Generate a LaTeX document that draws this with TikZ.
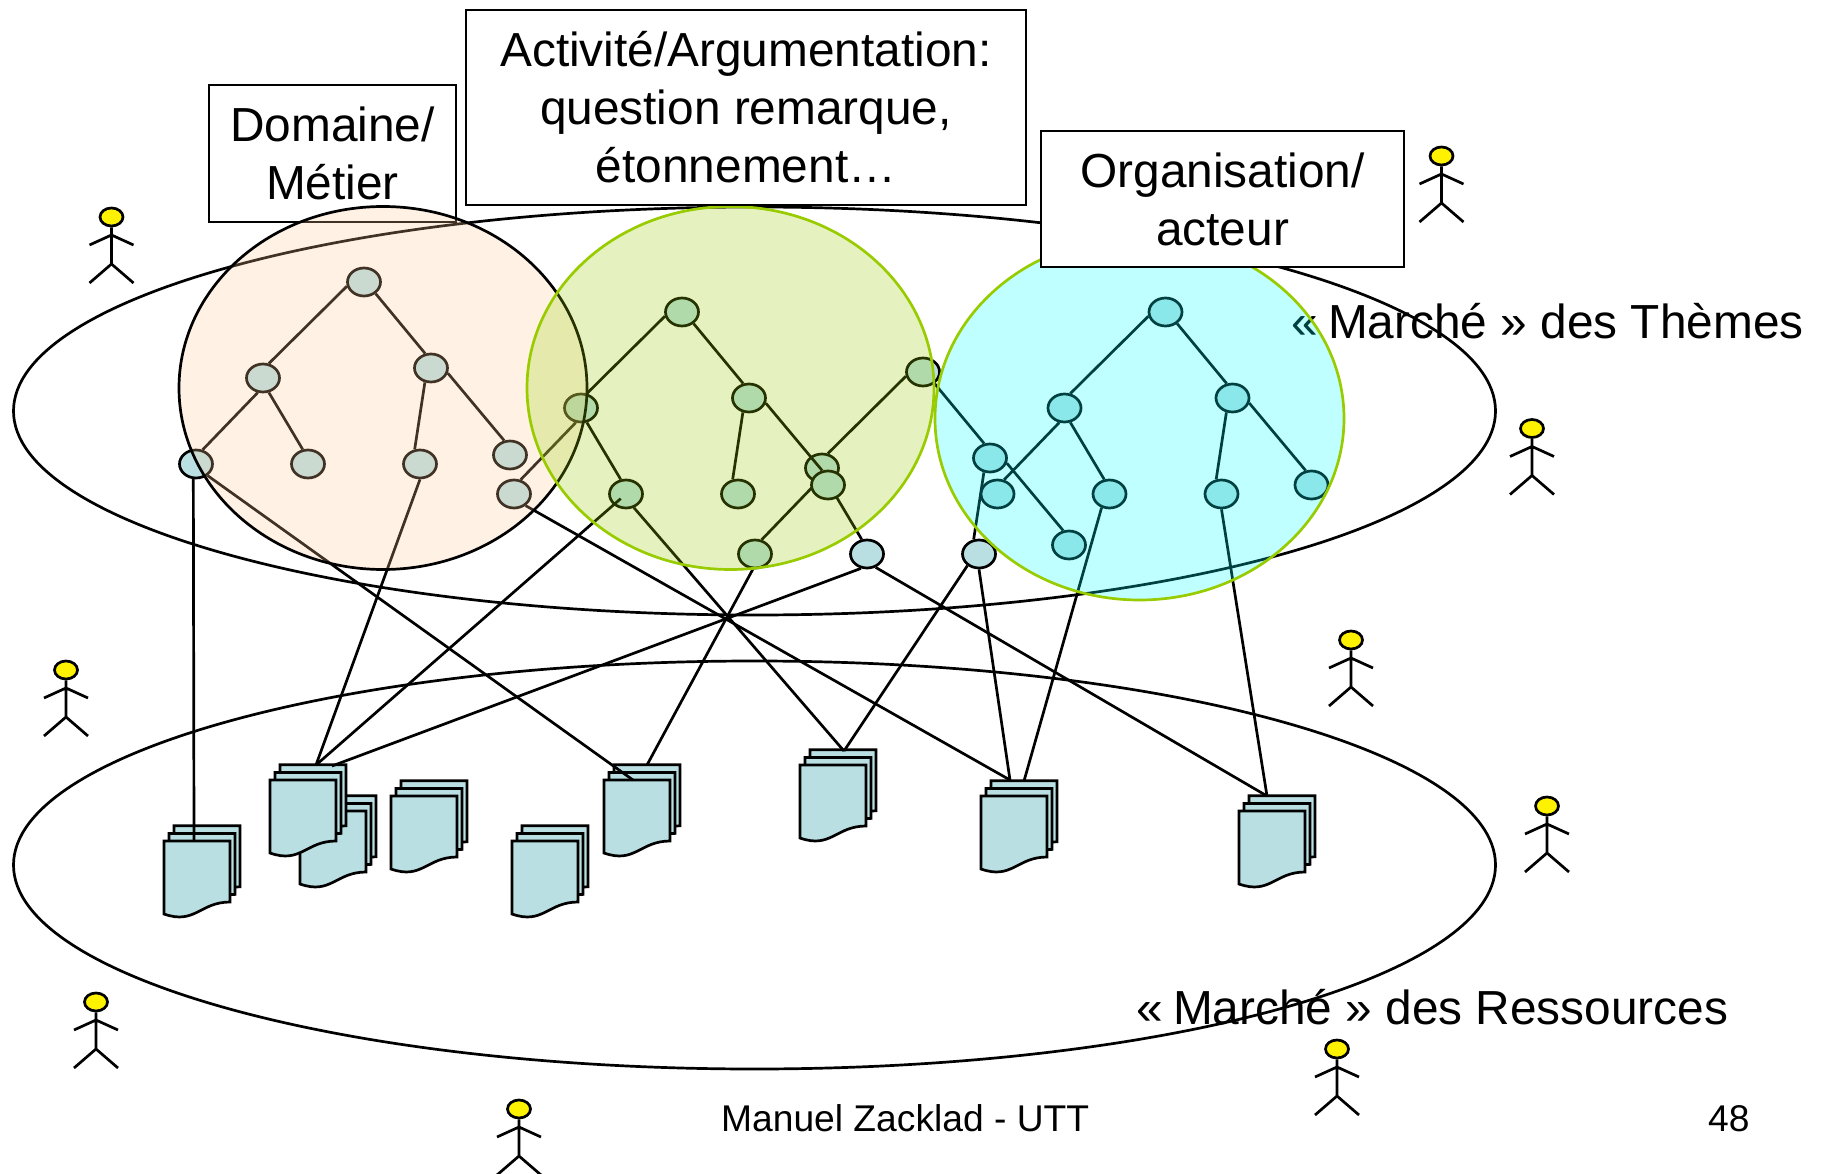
\documentclass[tikz,border=0pt]{standalone}
\usepackage{fontspec}
\setmainfont{Liberation Sans}
\usetikzlibrary{shapes.geometric}
\definecolor{bleudoc}{HTML}{B9DFE3}
\definecolor{vertrond}{RGB}{153,204,0}
\definecolor{orangerond}{RGB}{255,204,153}
\definecolor{cyanrond}{RGB}{0,255,255}
\tikzset{
	trait/.style={line width=2.7pt},
	noeud/.style={trait,draw,ellipse,fill=bleudoc,inner sep=0pt,minimum width=33pt,minimum height=28pt},
	tete/.style={trait,draw,ellipse,fill=yellow,inner sep=0pt,minimum width=23pt,minimum height=18pt},
	feuille/.style={trait,draw=black,fill=bleudoc,line join=miter},
	rond/.style={trait,draw,ellipse,fill opacity=.25,inner sep=0pt,minimum height=363pt},
	boite/.style={trait,draw,fill=white,inner sep=0pt,align=center,font=\fontsize{47.8}{58}\selectfont},
	titre/.style={anchor=base west,inner sep=0pt,font=\fontsize{47.8}{58}\selectfont},
	petit/.style={anchor=base west,inner sep=0pt,font=\fontsize{37.2}{44}\selectfont}
}
\begin{document}
\begin{tikzpicture}[x=1pt,y=-1pt]
	\useasboundingbox (0,0) rectangle (1821,1174);
	\draw[trait] (754.5,411) ellipse [x radius=741,y radius=204] % les deux marches
		(754.5,865) ellipse [x radius=741,y radius=204];
	\node[titre] (themes) at (1291,339) {«\kern-3pt{} Marché » des Thèmes};
	\node[titre] (ressources) at (1136,1024) {«\kern-3pt{} Marché » des Ressources};
	\node[petit] (auteur) at (721,1131) {Manuel Zacklad - UTT};
	\node[petit] (page) at (1708,1131) {48};
	\foreach \t/\x/\y in {o/923/372,r/1165.5/312,d/364/282,a/682/312}% racines des arbres
	{\foreach \s/\dx/\dy in {0/0/0,1/-101/96,2/67/86,3/-168/182,4/-56/182,5/56/182,6/146/173}
		\node[noeud] (\t\s) at (\x+\dx,\y+\dy) {};
		\foreach \p/\u/\f/\v in {0/194/1/68,0/315/2/112,1/250/3/65,1/292/4/110,2/247/5/110,2/343/6/112}
		\draw[trait] (\t\p.\u)--(\t\f.\v);}
	\foreach \x/\y in {300/811,270/780,164/841,391/796,512/841,604/780,800/765,981/796,1239/811}% piles de documents
	{\foreach \d in {2,1,0}
		\draw[feuille,shift={(\x+\d*5,\y-\d*7.6)}] (0,0)--(66,0)--(66,61)
		.. controls (36,61) and (31,84) .. (0,73)--cycle;}
	\coordinate (A) at (194,841);
	\coordinate (B1) at (316,765);
	\coordinate (B2) at (332,766);
	\coordinate (F1) at (633,780);
	\coordinate (F2) at (647,765);
	\coordinate (G) at (844,751);
	\coordinate (H1) at (1010,780);
	\coordinate (H2) at (1024,781);
	\coordinate (I) at (1267,796);
	\foreach \a/\b in {d3.260/A,d3.315/F1,d5.270/B1,o4.247/B2,o3.262/F2,a4.300/G,o5.225/G,a3.315/H1,o5.270/H1,r4.240/H2,o4.303/I,r5.270/I}
	\draw[trait] (\a)--(\b);
	\draw[trait,shorten <=7pt] (a4.center)--(B1);
	\node[boite,minimum width=247pt,minimum height=137pt] (metier) at (332.5,153.5) {Domaine/\\Métier};
	\node[rond,draw=black,fill=orangerond,minimum width=408pt] (corange) at (383,388) {};
	\node[rond,draw=vertrond,fill=vertrond,minimum width=407pt] (cvert) at (730.5,388) {};
	\node[rond,draw=vertrond,fill=cyanrond,minimum width=409pt] (ccyan) at (1139.5,418.5) {};
	\node[boite,minimum width=560pt,minimum height=195pt] (activite) at (746,107.5) {Activité/Argumentation:\\question remarque,\\étonnement…};
	\node[boite,minimum width=363pt,minimum height=136pt] (organisation) at (1222.5,199) {Organisation/\\acteur};
	\foreach \x/\y [count=\i from 1] in {111.5/217,1441.5/156,1532/428.5,66/670,1351/640,1547/806,96/1002,1337/1049,519/1109}% personnages
	{\node[tete] (t\i) at (\x,\y) {};
		\draw[trait] (t\i.south)--(\x,\y+47)
		(\x-22,\y+66)--(\x,\y+47)--(\x+22,\y+66)
		(\x-22,\y+28)--(\x,\y+18)--(\x+22,\y+28);}
\end{tikzpicture}
\end{document}
